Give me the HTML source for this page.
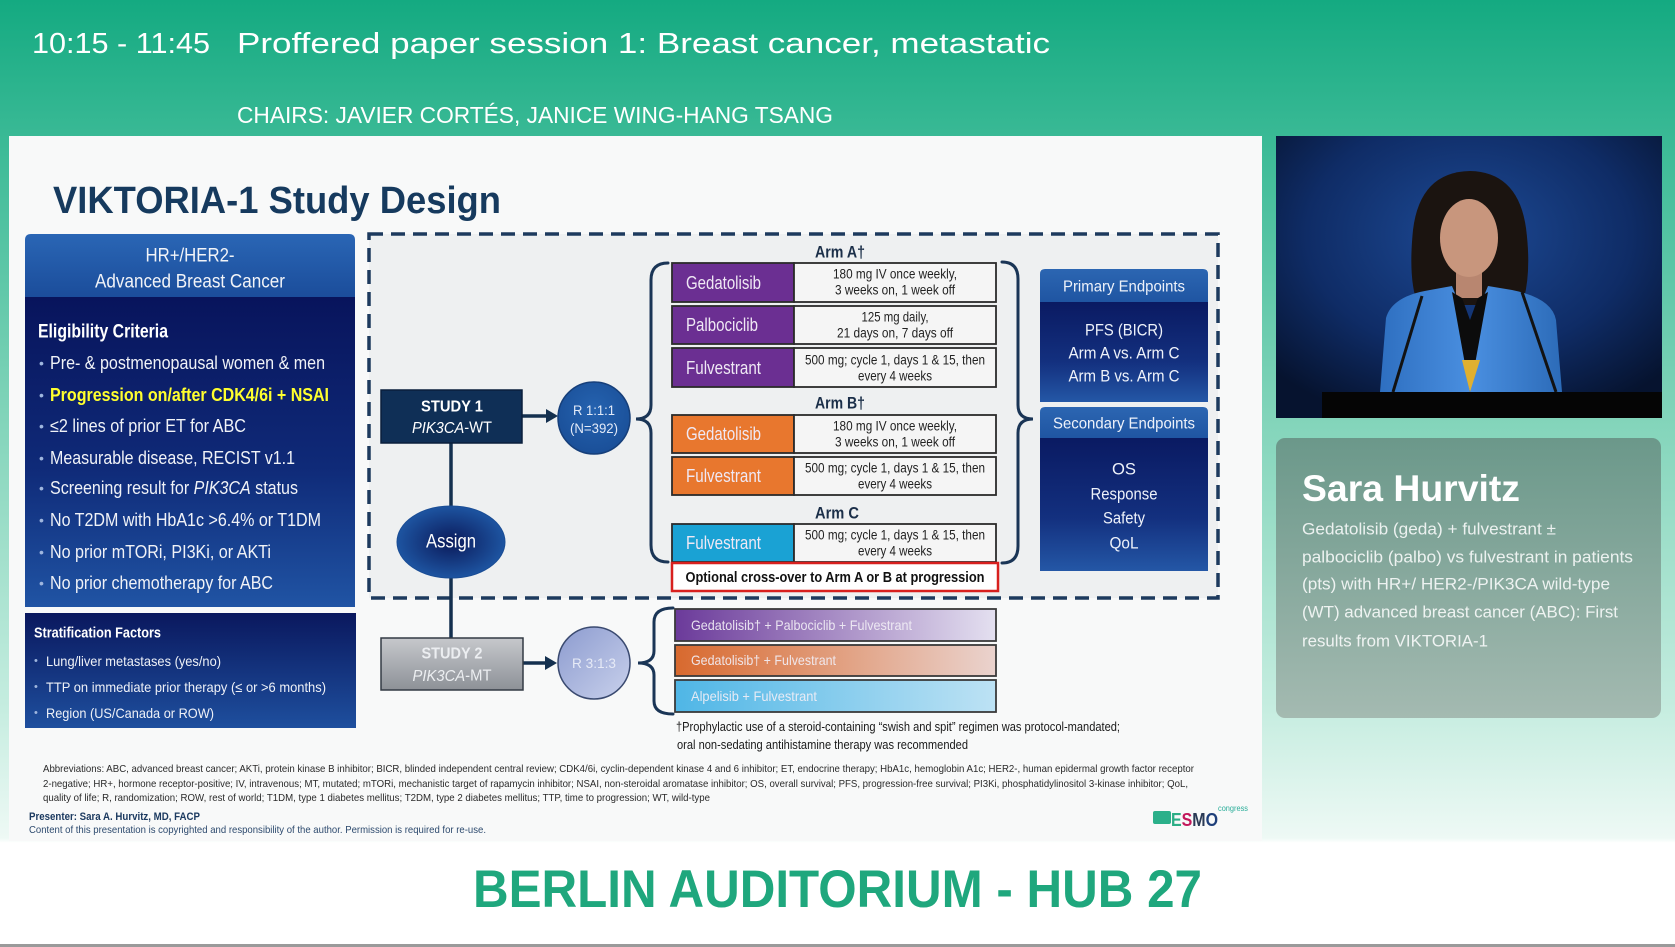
<!DOCTYPE html>
<html><head><meta charset="utf-8">
<style>
html,body{margin:0;padding:0;width:1675px;height:947px;overflow:hidden;background:#fff;}
svg{display:block;font-family:"Liberation Sans",Arial,sans-serif;}
</style></head>
<body>
<svg width="1675" height="947" viewBox="0 0 1675 947" xmlns="http://www.w3.org/2000/svg">
<defs>
  <linearGradient id="bg" x1="0" y1="0" x2="0" y2="947" gradientUnits="userSpaceOnUse">
    <stop offset="0" stop-color="#14aa81"/>
    <stop offset="0.15" stop-color="#3bba96"/>
    <stop offset="0.45" stop-color="#84d5bb"/>
    <stop offset="0.75" stop-color="#c6ede0"/>
    <stop offset="0.885" stop-color="#eef9f5"/>
    <stop offset="0.89" stop-color="#ffffff"/>
    <stop offset="1" stop-color="#ffffff"/>
  </linearGradient>
  <linearGradient id="lhead" x1="0" y1="0" x2="0" y2="1">
    <stop offset="0" stop-color="#2a66b5"/><stop offset="1" stop-color="#1b4d9b"/>
  </linearGradient>
  <linearGradient id="lbody" x1="0" y1="0" x2="0" y2="1">
    <stop offset="0" stop-color="#08145c"/><stop offset="0.55" stop-color="#0f2a78"/><stop offset="1" stop-color="#2054a4"/>
  </linearGradient>
  <linearGradient id="sbody" x1="0" y1="0" x2="0" y2="1">
    <stop offset="0" stop-color="#0a185e"/><stop offset="1" stop-color="#1e4f9e"/>
  </linearGradient>
  <linearGradient id="ehead" x1="0" y1="0" x2="0" y2="1">
    <stop offset="0" stop-color="#2c66b2"/><stop offset="1" stop-color="#1f55a2"/>
  </linearGradient>
  <linearGradient id="ebody" x1="0" y1="0" x2="0" y2="1">
    <stop offset="0" stop-color="#0a1a62"/><stop offset="0.6" stop-color="#13307f"/><stop offset="1" stop-color="#2457a6"/>
  </linearGradient>
  <radialGradient id="rcirc" cx="0.5" cy="0.4" r="0.6">
    <stop offset="0" stop-color="#2563b0"/><stop offset="1" stop-color="#1a4f98"/>
  </radialGradient>
  <radialGradient id="assign" cx="0.5" cy="0.5" r="0.55">
    <stop offset="0" stop-color="#0b1a5a"/><stop offset="1" stop-color="#1f5aa8"/>
  </radialGradient>
  <linearGradient id="s2" x1="0" y1="0" x2="0" y2="1">
    <stop offset="0" stop-color="#c6c8cc"/><stop offset="1" stop-color="#8d9197"/>
  </linearGradient>
  <linearGradient id="r2" x1="0" y1="0" x2="1" y2="1">
    <stop offset="0" stop-color="#8c9bcf"/><stop offset="1" stop-color="#c9d1ec"/>
  </linearGradient>
  <linearGradient id="b1" x1="0" y1="0" x2="1" y2="0">
    <stop offset="0" stop-color="#6b3a9a"/><stop offset="1" stop-color="#e4e0f0"/>
  </linearGradient>
  <linearGradient id="b2" x1="0" y1="0" x2="1" y2="0">
    <stop offset="0" stop-color="#d8692e"/><stop offset="1" stop-color="#ead3ce"/>
  </linearGradient>
  <linearGradient id="b3" x1="0" y1="0" x2="1" y2="0">
    <stop offset="0" stop-color="#4fb6e6"/><stop offset="1" stop-color="#bde2f4"/>
  </linearGradient>
  <radialGradient id="vid" cx="0.5" cy="0.35" r="0.7">
    <stop offset="0" stop-color="#1d4a95"/><stop offset="0.6" stop-color="#0f2c66"/><stop offset="1" stop-color="#06132f"/>
  </radialGradient>
  <linearGradient id="card" x1="0" y1="0" x2="0" y2="1">
    <stop offset="0" stop-color="#6b988a"/><stop offset="1" stop-color="#a4bab1"/>
  </linearGradient>
  <linearGradient id="jacket" x1="0" y1="0" x2="1" y2="0">
    <stop offset="0" stop-color="#2e6fc0"/><stop offset="0.5" stop-color="#4a8fe0"/><stop offset="1" stop-color="#2c6bb8"/>
  </linearGradient>
</defs>

<!-- background -->
<rect x="0" y="0" width="1675" height="947" fill="url(#bg)"/>
<rect x="0" y="944" width="1675" height="3" fill="#9a9a9a"/>

<!-- header -->
<text x="32" y="53" font-size="29" fill="#ffffff" textLength="178" lengthAdjust="spacingAndGlyphs">10:15 - 11:45</text>
<text x="237" y="53" font-size="29" fill="#ffffff" textLength="813" lengthAdjust="spacingAndGlyphs">Proffered paper session 1: Breast cancer, metastatic</text>
<text x="237" y="123" font-size="23" fill="#ffffff" textLength="596" lengthAdjust="spacingAndGlyphs">CHAIRS: JAVIER CORTÉS, JANICE WING-HANG TSANG</text>

<!-- slide -->
<rect x="9" y="136" width="1253" height="705" fill="#f8f9f9"/>
<text x="53" y="213" font-size="38" font-weight="bold" fill="#163a5e" textLength="448" lengthAdjust="spacingAndGlyphs">VIKTORIA-1 Study Design</text>

<!-- left eligibility box -->
<path d="M25,297 L25,240 Q25,234 31,234 L349,234 Q355,234 355,240 L355,297 Z" fill="url(#lhead)"/>
<rect x="25" y="297" width="330" height="310" fill="url(#lbody)"/>
<g fill="#f2f4f8" font-size="19" text-anchor="middle" dominant-baseline="central">
  <text x="190" y="256" textLength="89" lengthAdjust="spacingAndGlyphs">HR+/HER2-</text>
  <text x="190" y="282" textLength="190" lengthAdjust="spacingAndGlyphs">Advanced Breast Cancer</text>
</g>
<text x="38" y="332" font-size="19" font-weight="bold" fill="#ffffff" dominant-baseline="central" textLength="130" lengthAdjust="spacingAndGlyphs">Eligibility Criteria</text>
<g font-size="18" dominant-baseline="central">
  <g fill="#9fb6de" font-size="14">
    <text x="39" y="363">•</text><text x="39" y="395">•</text><text x="39" y="426">•</text><text x="39" y="458">•</text>
    <text x="39" y="488">•</text><text x="39" y="520">•</text><text x="39" y="552">•</text><text x="39" y="583">•</text>
  </g>
  <text x="50" y="363" fill="#f0f2f7" textLength="275" lengthAdjust="spacingAndGlyphs">Pre- &amp; postmenopausal women &amp; men</text>
  <text x="50" y="395" fill="#ffff2e" font-weight="bold" textLength="279" lengthAdjust="spacingAndGlyphs">Progression on/after CDK4/6i + NSAI</text>
  <text x="50" y="426" fill="#f0f2f7" textLength="196" lengthAdjust="spacingAndGlyphs">≤2 lines of prior ET for ABC</text>
  <text x="50" y="458" fill="#f0f2f7" textLength="245" lengthAdjust="spacingAndGlyphs">Measurable disease, RECIST v1.1</text>
  <text x="50" y="488" fill="#f0f2f7" textLength="248" lengthAdjust="spacingAndGlyphs">Screening result for <tspan font-style="italic">PIK3CA</tspan> status</text>
  <text x="50" y="520" fill="#f0f2f7" textLength="271" lengthAdjust="spacingAndGlyphs">No T2DM with HbA1c &gt;6.4% or T1DM</text>
  <text x="50" y="552" fill="#f0f2f7" textLength="221" lengthAdjust="spacingAndGlyphs">No prior mTORi, PI3Ki, or AKTi</text>
  <text x="50" y="583" fill="#f0f2f7" textLength="223" lengthAdjust="spacingAndGlyphs">No prior chemotherapy for ABC</text>
</g>

<!-- stratification box -->
<rect x="25" y="613" width="331" height="115" fill="url(#sbody)"/>
<text x="34" y="633" font-size="15" font-weight="bold" fill="#ffffff" dominant-baseline="central" textLength="127" lengthAdjust="spacingAndGlyphs">Stratification Factors</text>
<g font-size="14" fill="#eef1f7" dominant-baseline="central">
  <text x="34" y="661" fill="#9fb6de" font-size="11">•</text>
  <text x="34" y="687" fill="#9fb6de" font-size="11">•</text>
  <text x="34" y="713" fill="#9fb6de" font-size="11">•</text>
  <text x="46" y="661" textLength="175" lengthAdjust="spacingAndGlyphs">Lung/liver metastases (yes/no)</text>
  <text x="46" y="687" textLength="280" lengthAdjust="spacingAndGlyphs">TTP on immediate prior therapy (≤ or &gt;6 months)</text>
  <text x="46" y="713" textLength="168" lengthAdjust="spacingAndGlyphs">Region (US/Canada or ROW)</text>
</g>

<!-- dashed study 1 box -->
<rect x="369" y="234" width="849" height="364" fill="#eef0f1" stroke="#1d3a5e" stroke-width="3.5" stroke-dasharray="14 8"/>

<!-- connectors -->
<g stroke="#14304f" stroke-width="3.5" fill="none">
  <line x1="451" y1="443" x2="451" y2="506"/>
  <line x1="451" y1="578" x2="451" y2="638"/>
  <line x1="522" y1="416" x2="548" y2="416"/>
  <line x1="523" y1="663" x2="547" y2="663"/>
</g>
<polygon points="546,409 558,416 546,423" fill="#14304f"/>
<polygon points="545,656 557,663 545,670" fill="#14304f"/>

<!-- study 1 -->
<rect x="381" y="390" width="141" height="53" fill="#0f2f56" stroke="#0a1f3c" stroke-width="1.5"/>
<g text-anchor="middle" dominant-baseline="central" fill="#ffffff">
  <text x="452" y="407" font-size="16" font-weight="bold" textLength="62" lengthAdjust="spacingAndGlyphs">STUDY 1</text>
  <text x="452" y="428" font-size="16" textLength="80" lengthAdjust="spacingAndGlyphs"><tspan font-style="italic">PIK3CA</tspan>-WT</text>
</g>
<circle cx="594" cy="418" r="36" fill="url(#rcirc)" stroke="#163f7a" stroke-width="1.5"/>
<g text-anchor="middle" dominant-baseline="central" fill="#e2eaf8" font-size="14">
  <text x="594" y="410" textLength="42" lengthAdjust="spacingAndGlyphs">R 1:1:1</text>
  <text x="594" y="428" textLength="48" lengthAdjust="spacingAndGlyphs">(N=392)</text>
</g>
<ellipse cx="451" cy="542" rx="54" ry="36" fill="url(#assign)" stroke="#1a4d95" stroke-width="1"/>
<text x="451" y="542" font-size="19" fill="#ffffff" text-anchor="middle" dominant-baseline="central" textLength="50" lengthAdjust="spacingAndGlyphs">Assign</text>

<!-- study 2 -->
<rect x="381" y="638" width="142" height="52" fill="url(#s2)" stroke="#333a44" stroke-width="1.5"/>
<g text-anchor="middle" dominant-baseline="central" fill="#eceef1">
  <text x="452" y="654" font-size="16" font-weight="bold" textLength="61" lengthAdjust="spacingAndGlyphs">STUDY 2</text>
  <text x="452" y="676" font-size="16" textLength="79" lengthAdjust="spacingAndGlyphs"><tspan font-style="italic">PIK3CA</tspan>-MT</text>
</g>
<circle cx="594" cy="663" r="36" fill="url(#r2)" stroke="#3a4a70" stroke-width="1.5"/>
<text x="594" y="663" font-size="14" fill="#e6eaf6" text-anchor="middle" dominant-baseline="central" textLength="44" lengthAdjust="spacingAndGlyphs">R 3:1:3</text>

<!-- braces -->
<g stroke="#1a3556" stroke-width="3" fill="none" stroke-linecap="round">
  <path d="M668,263 Q651,263 651,280 L651,405 Q651,419 636,419 Q651,419 651,433 L651,545 Q651,562 668,562"/>
  <path d="M1002,262 Q1018,262 1018,279 L1018,405 Q1018,419 1033,419 Q1018,419 1018,433 L1018,546 Q1018,563 1002,563"/>
  <path d="M673,608 Q654,608 654,622 L654,651 Q654,663 638,663 Q654,663 654,675 L654,701 Q654,714 673,714"/>
</g>

<!-- arm labels -->
<g text-anchor="middle" dominant-baseline="central" fill="#1a2e48" font-size="17" font-weight="bold">
  <text x="840" y="252" textLength="50" lengthAdjust="spacingAndGlyphs">Arm A†</text>
  <text x="840" y="403" textLength="50" lengthAdjust="spacingAndGlyphs">Arm B†</text>
  <text x="837" y="513" textLength="44" lengthAdjust="spacingAndGlyphs">Arm C</text>
</g>

<!-- arm rows -->
<g stroke="#2b2b2b" stroke-width="1.8">
  <rect x="672" y="263" width="122" height="39" fill="#6b2f92"/>
  <rect x="794" y="263" width="202" height="39" fill="#f5f5f5"/>
  <rect x="672" y="306" width="122" height="38" fill="#6b2f92"/>
  <rect x="794" y="306" width="202" height="38" fill="#f5f5f5"/>
  <rect x="672" y="348" width="122" height="39" fill="#6b2f92"/>
  <rect x="794" y="348" width="202" height="39" fill="#f5f5f5"/>
  <rect x="672" y="415" width="122" height="38" fill="#e8772e"/>
  <rect x="794" y="415" width="202" height="38" fill="#f5f5f5"/>
  <rect x="672" y="457" width="122" height="38" fill="#e8772e"/>
  <rect x="794" y="457" width="202" height="38" fill="#f5f5f5"/>
  <rect x="672" y="524" width="122" height="38" fill="#1aa2d4"/>
  <rect x="794" y="524" width="202" height="38" fill="#f5f5f5"/>
</g>
<g font-size="18" fill="#efe8f4" dominant-baseline="central">
  <text x="686" y="283" textLength="75" lengthAdjust="spacingAndGlyphs">Gedatolisib</text>
  <text x="686" y="325" textLength="72" lengthAdjust="spacingAndGlyphs">Palbociclib</text>
  <text x="686" y="368" textLength="75" lengthAdjust="spacingAndGlyphs">Fulvestrant</text>
  <text x="686" y="434" textLength="75" lengthAdjust="spacingAndGlyphs">Gedatolisib</text>
  <text x="686" y="476" textLength="75" lengthAdjust="spacingAndGlyphs">Fulvestrant</text>
  <text x="686" y="543" textLength="75" lengthAdjust="spacingAndGlyphs">Fulvestrant</text>
</g>
<g font-size="13.5" fill="#222" text-anchor="middle" dominant-baseline="central">
  <text x="895" y="274" textLength="124" lengthAdjust="spacingAndGlyphs">180 mg IV once weekly,</text>
  <text x="895" y="290" textLength="120" lengthAdjust="spacingAndGlyphs">3 weeks on, 1 week off</text>
  <text x="895" y="317" textLength="67" lengthAdjust="spacingAndGlyphs">125 mg daily,</text>
  <text x="895" y="333" textLength="116" lengthAdjust="spacingAndGlyphs">21 days on, 7 days off</text>
  <text x="895" y="360" textLength="180" lengthAdjust="spacingAndGlyphs">500 mg; cycle 1, days 1 &amp; 15, then</text>
  <text x="895" y="376" textLength="74" lengthAdjust="spacingAndGlyphs">every 4 weeks</text>
  <text x="895" y="426" textLength="124" lengthAdjust="spacingAndGlyphs">180 mg IV once weekly,</text>
  <text x="895" y="442" textLength="120" lengthAdjust="spacingAndGlyphs">3 weeks on, 1 week off</text>
  <text x="895" y="468" textLength="180" lengthAdjust="spacingAndGlyphs">500 mg; cycle 1, days 1 &amp; 15, then</text>
  <text x="895" y="484" textLength="74" lengthAdjust="spacingAndGlyphs">every 4 weeks</text>
  <text x="895" y="535" textLength="180" lengthAdjust="spacingAndGlyphs">500 mg; cycle 1, days 1 &amp; 15, then</text>
  <text x="895" y="551" textLength="74" lengthAdjust="spacingAndGlyphs">every 4 weeks</text>
</g>
<rect x="672" y="563" width="326" height="28" fill="#ffffff" stroke="#d8201e" stroke-width="2.5"/>
<text x="835" y="578" font-size="14.5" font-weight="bold" fill="#111" text-anchor="middle" dominant-baseline="central" textLength="299" lengthAdjust="spacingAndGlyphs">Optional cross-over to Arm A or B at progression</text>

<!-- endpoints -->
<path d="M1040,302 L1040,274 Q1040,269 1045,269 L1203,269 Q1208,269 1208,274 L1208,302 Z" fill="url(#ehead)"/>
<rect x="1040" y="302" width="168" height="100" fill="url(#ebody)"/>
<path d="M1040,438 L1040,412 Q1040,407 1045,407 L1203,407 Q1208,407 1208,412 L1208,438 Z" fill="url(#ehead)"/>
<rect x="1040" y="438" width="168" height="133" fill="url(#ebody)"/>
<g text-anchor="middle" dominant-baseline="central" fill="#eef2fa">
  <text x="1124" y="287" font-size="16" textLength="122" lengthAdjust="spacingAndGlyphs">Primary Endpoints</text>
  <text x="1124" y="330" font-size="17" textLength="78" lengthAdjust="spacingAndGlyphs">PFS (BICR)</text>
  <text x="1124" y="353" font-size="17" textLength="111" lengthAdjust="spacingAndGlyphs">Arm A vs. Arm C</text>
  <text x="1124" y="376" font-size="17" textLength="111" lengthAdjust="spacingAndGlyphs">Arm B vs. Arm C</text>
  <text x="1124" y="424" font-size="16" textLength="142" lengthAdjust="spacingAndGlyphs">Secondary Endpoints</text>
  <text x="1124" y="469" font-size="17" textLength="24" lengthAdjust="spacingAndGlyphs">OS</text>
  <text x="1124" y="494" font-size="17" textLength="67" lengthAdjust="spacingAndGlyphs">Response</text>
  <text x="1124" y="518" font-size="17" textLength="42" lengthAdjust="spacingAndGlyphs">Safety</text>
  <text x="1124" y="543" font-size="17" textLength="29" lengthAdjust="spacingAndGlyphs">QoL</text>
</g>

<!-- study 2 bars -->
<g stroke="#3a3a3a" stroke-width="1.8">
  <rect x="675" y="609" width="321" height="32" fill="url(#b1)"/>
  <rect x="675" y="645" width="321" height="31" fill="url(#b2)"/>
  <rect x="675" y="680" width="321" height="32" fill="url(#b3)"/>
</g>
<g font-size="14" fill="#f1eef5" fill-opacity="0.92" dominant-baseline="central">
  <text x="691" y="625" textLength="221" lengthAdjust="spacingAndGlyphs">Gedatolisib† + Palbociclib + Fulvestrant</text>
  <text x="691" y="660" textLength="145" lengthAdjust="spacingAndGlyphs">Gedatolisib† + Fulvestrant</text>
  <text x="691" y="696" textLength="126" lengthAdjust="spacingAndGlyphs">Alpelisib + Fulvestrant</text>
</g>

<!-- footnotes -->
<g font-size="12.5" fill="#1a1a1a" dominant-baseline="central">
  <text x="676" y="727" textLength="444" lengthAdjust="spacingAndGlyphs">†Prophylactic use of a steroid-containing “swish and spit” regimen was protocol-mandated;</text>
  <text x="677" y="745" textLength="291" lengthAdjust="spacingAndGlyphs">oral non-sedating antihistamine therapy was recommended</text>
</g>
<g font-size="10.5" fill="#2a2a2a" dominant-baseline="central">
  <text x="43" y="769" textLength="1151" lengthAdjust="spacingAndGlyphs">Abbreviations: ABC, advanced breast cancer; AKTi, protein kinase B inhibitor; BICR, blinded independent central review; CDK4/6i, cyclin-dependent kinase 4 and 6 inhibitor; ET, endocrine therapy; HbA1c, hemoglobin A1c; HER2-, human epidermal growth factor receptor</text>
  <text x="43" y="784" textLength="1145" lengthAdjust="spacingAndGlyphs">2-negative; HR+, hormone receptor-positive; IV, intravenous; MT, mutated; mTORi, mechanistic target of rapamycin inhibitor; NSAI, non-steroidal aromatase inhibitor; OS, overall survival; PFS, progression-free survival; PI3Ki, phosphatidylinositol 3-kinase inhibitor; QoL,</text>
  <text x="43" y="798" textLength="667" lengthAdjust="spacingAndGlyphs">quality of life; R, randomization; ROW, rest of world; T1DM, type 1 diabetes mellitus; T2DM, type 2 diabetes mellitus; TTP, time to progression; WT, wild-type</text>
</g>
<text x="29" y="817" font-size="11" font-weight="bold" fill="#1c3a60" dominant-baseline="central" textLength="171" lengthAdjust="spacingAndGlyphs">Presenter: Sara A. Hurvitz, MD, FACP</text>
<text x="29" y="830" font-size="10.5" fill="#2d4a6e" dominant-baseline="central" textLength="457" lengthAdjust="spacingAndGlyphs">Content of this presentation is copyrighted and responsibility of the author. Permission is required for re-use.</text>

<!-- ESMO logo -->
<rect x="1153" y="811" width="18" height="13" rx="2" fill="#2bb08a"/>
<text x="1171" y="826" font-size="18" font-weight="bold" textLength="47" lengthAdjust="spacingAndGlyphs"><tspan fill="#2bae86">E</tspan><tspan fill="#c2185b">S</tspan><tspan fill="#2a3a55">M</tspan><tspan fill="#1e3f7a">O</tspan></text>
<text x="1218" y="811" font-size="8" fill="#2bae9a" textLength="30" lengthAdjust="spacingAndGlyphs">congress</text>

<!-- bottom title -->
<text x="473" y="907" font-size="53" font-weight="bold" fill="#1fa77d" textLength="729" lengthAdjust="spacingAndGlyphs">BERLIN AUDITORIUM - HUB 27</text>

<!-- video panel -->
<rect x="1276" y="136" width="386" height="282" fill="url(#vid)"/>
<path d="M1470,171 Q1420,172 1413,230 Q1408,280 1418,305 L1522,305 Q1532,275 1526,228 Q1518,172 1470,171 Z" fill="#1b1410"/>
<rect x="1456" y="268" width="26" height="30" fill="#b88670"/>
<ellipse cx="1469" cy="238" rx="29" ry="39" fill="#c8967d"/>
<path d="M1380,392 L1386,318 Q1392,296 1430,290 L1452,286 L1470,330 L1488,286 L1512,290 Q1552,298 1556,320 L1562,392 Z" fill="url(#jacket)"/>
<path d="M1452,292 L1470,392 L1488,292 L1478,298 L1470,320 L1462,298 Z" fill="#0c0c0c"/>
<path d="M1462,360 L1470,392 L1480,360 Z" fill="#e0b030"/>
<g stroke="#121212" stroke-width="3" fill="none">
  <line x1="1422" y1="296" x2="1393" y2="392"/>
  <line x1="1522" y1="292" x2="1556" y2="392"/>
</g>
<rect x="1322" y="392" width="340" height="26" fill="#050505"/>

<!-- name card -->
<rect x="1276" y="438" width="385" height="280" rx="9" fill="url(#card)"/>
<text x="1302" y="501" font-size="37" font-weight="bold" fill="#ffffff" textLength="218" lengthAdjust="spacingAndGlyphs">Sara Hurvitz</text>
<g font-size="17" fill="#ffffff" fill-opacity="0.85" dominant-baseline="central">
  <text x="1302" y="529" textLength="254" lengthAdjust="spacingAndGlyphs">Gedatolisib (geda) + fulvestrant ±</text>
  <text x="1302" y="557" textLength="331" lengthAdjust="spacingAndGlyphs">palbociclib (palbo) vs fulvestrant in patients</text>
  <text x="1302" y="584" textLength="308" lengthAdjust="spacingAndGlyphs">(pts) with HR+/ HER2-/PIK3CA wild-type</text>
  <text x="1302" y="612" textLength="316" lengthAdjust="spacingAndGlyphs">(WT) advanced breast cancer (ABC): First</text>
  <text x="1302" y="641" textLength="186" lengthAdjust="spacingAndGlyphs">results from VIKTORIA-1</text>
</g>
</svg>
</body></html>
